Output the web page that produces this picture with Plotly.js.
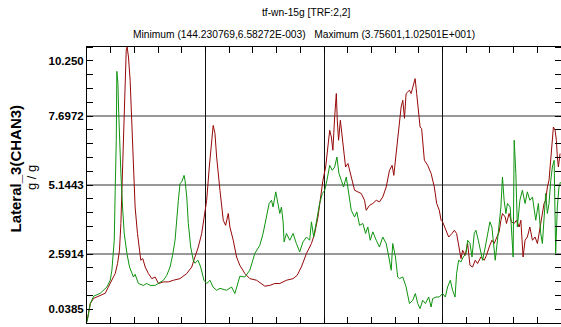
<!DOCTYPE html>
<html><head><meta charset="utf-8">
<script src="https://cdn.plot.ly/plotly-3.0.1.min.js"></script>
<style>html,body{margin:0;padding:0;background:#fff;overflow:hidden}</style>
</head><body><div id="chart" style="width:561px;height:327px"></div>
<script>
// Frequency (Hz) and amplitude (g/g)
const freqRed = [0,0.28,0.56,0.84,1.12,1.54,1.79,2.10,2.38,2.58, 2.74,2.86,2.95,3.03,3.14,3.22,3.31,3.39,3.50,3.64, 3.79,3.92,4.06,4.26,4.43,4.54,4.71,4.91,5.18,5.47, 5.75,6.03,6.45,6.87,7.29,7.85,8.42,8.84,9.11,9.39, 9.68,9.87,10.10,10.32,10.52,10.65,10.80,10.94,11.22,11.50, 11.70,11.92,12.06,12.34,12.62,12.90,13.32,13.74,14.31,14.67, 15.01,15.43,15.85,16.27,16.83,17.39,17.73,18.09,18.52,18.94, 19.21,19.49,19.78,19.91,20.14,20.33,20.48,20.62,20.75,20.90, 21.04,21.12,21.23,21.38,21.60,21.82,22.02,22.30,22.58,22.86, 23.14,23.42,23.56,23.84,24.12,24.41,24.68,24.96,25.25,25.53, 25.75,25.89,26.09,26.31,26.51,26.65,26.79,26.93,27.21,27.35, 27.49,27.69,27.82,27.99,28.11,28.24,28.47,28.75,29.04,29.31, 29.51,29.73,29.88,30.01,30.30,30.52,30.80,31.00,31.19,31.36, 31.56,31.70,31.92,32.12,32.32,32.54,32.76,32.96,33.24,33.52, 33.71,33.94,34.17,34.36,34.56,34.78,34.93,35.06,35.29,35.40, 35.62,35.82,36.05,36.24,36.47,36.61,36.80,36.97,37.16,37.37, 37.59,37.81,38.01,38.15,38.38,38.57,38.71,38.85,38.99,39.14, 39.27,39.36,39.50,39.61,39.69,39.78,39.92];
const lateralRed = [0.10,0.76,0.95,1.00,1.06,1.14,1.36,1.62,1.87,2.24, 2.73,3.72,4.95,6.18,8.03,9.27,10.13,10.25,9.88,9.02, 7.42,5.57,4.33,3.35,2.61,2.36,2.42,2.11,1.87,1.68, 1.74,1.50,1.56,1.56,1.62,1.68,1.87,2.11,2.48,2.85, 3.35,3.84,4.58,5.81,6.80,7.35,7.05,6.18,4.95,3.84, 3.65,4.09,3.59,3.10,2.48,2.17,1.87,1.68,1.62,1.51, 1.40,1.43,1.50,1.50,1.62,1.68,1.80,2.11,2.61,2.98, 3.35,3.96,4.83,5.32,5.81,6.55,7.17,6.92,6.43,7.66, 8.53,7.54,6.80,7.54,6.55,5.81,5.94,5.44,4.95,4.89, 4.83,4.58,4.21,4.39,4.46,4.58,4.52,4.70,5.07,5.69, 5.87,5.50,6.31,7.05,8.03,8.28,7.61,8.53,8.65,8.53, 8.77,9.08,8.53,7.66,7.29,7.23,6.06,5.87,5.57,5.07, 4.46,4.21,3.84,3.78,3.47,3.22,3.35,3.47,3.35,2.85, 2.42,2.73,2.54,2.98,2.17,2.11,2.36,2.24,2.48,2.36, 2.54,2.85,3.10,2.98,3.22,3.41,3.84,4.09,3.96,3.72, 4.09,3.78,3.72,3.84,3.59,3.84,2.48,3.10,3.22,3.59, 3.10,3.22,2.98,3.35,3.96,4.46,4.58,5.07,5.32,6.18, 6.80,7.29,7.17,6.80,6.18,5.81,6.31];

const freqGreen = [0,0.28,0.56,1.12,1.68,1.96,2.10,2.24,2.30,2.38, 2.47,2.52,2.61,2.66,2.74,2.86,3.00,3.14,3.37,3.59, 3.92,4.06,4.34,4.76,5.05,5.33,5.75,6.17,6.45,6.73, 7.01,7.22,7.43,7.71,7.85,8.00,8.19,8.27,8.42,8.55, 8.75,8.97,9.11,9.37,9.59,9.87,10.10,10.38,10.63,10.94, 11.22,11.78,12.20,12.48,12.76,12.90,13.32,13.74,14.16,14.58, 14.86,15.09,15.37,15.57,15.70,15.93,16.13,16.27,16.41,16.55, 16.63,16.83,17.11,17.39,17.67,17.95,18.23,18.52,18.79,18.94, 19.13,19.41,19.63,19.86,20.06,20.25,20.48,20.70,20.90,21.09, 21.26,21.46,21.65,21.88,22.10,22.30,22.58,22.77,23.00,23.28, 23.51,23.70,23.90,24.12,24.41,24.68,24.96,25.25,25.47,25.67, 25.80,26.03,26.22,26.37,26.65,26.93,27.21,27.49,27.71,27.91, 28.11,28.33,28.56,28.83,29.04,29.17,29.46,29.73,30.01,30.24, 30.43,30.66,30.85,31.06,31.19,31.36,31.56,31.75,31.98,32.12, 32.32,32.49,32.68,32.82,33.02,33.24,33.38,33.61,33.80,34.00, 34.17,34.30,34.45,34.64,34.78,34.93,35.06,35.20,35.35,35.48, 35.71,35.85,35.96,36.05,36.19,36.32,36.53,36.74,36.97,37.16, 37.37,37.59,37.73,37.87,38.09,38.29,38.43,38.57,38.71,38.85, 38.99,39.14,39.27,39.42,39.55,39.69,39.83,39.95];
const lateralGreen = [0.08,0.76,1.03,1.14,1.37,1.62,1.99,2.61,3.10,4.95, 6.80,9.35,8.90,8.03,6.80,5.58,4.33,3.36,2.61,2.11, 1.74,1.84,1.50,1.43,1.50,1.43,1.43,1.55,1.62,1.80, 2.11,2.54,3.10,4.58,5.20,5.26,5.50,5.32,4.70,3.72, 2.85,2.36,2.25,2.36,2.11,1.62,1.50,1.62,1.37,1.25, 1.32,1.25,1.37,1.13,1.50,1.77,1.74,1.99,2.61,2.91, 3.35,3.84,4.46,4.58,4.33,4.89,4.46,4.09,4.33,3.78, 3.04,3.35,3.10,3.35,2.98,2.67,3.04,3.22,3.10,3.78, 3.22,3.96,4.46,4.83,4.95,5.32,5.87,5.69,5.81,6.18, 5.57,5.32,5.07,5.44,4.70,4.21,3.96,4.15,3.65,3.72, 3.35,3.59,3.10,3.41,3.10,2.85,3.22,2.98,2.48,1.99, 2.98,2.48,1.74,1.68,1.74,1.37,0.76,0.88,1.13,0.76, 0.57,0.88,0.76,1.00,0.63,0.94,1.00,1.00,1.13,1.00, 1.37,1.62,1.25,1.00,1.87,2.36,2.30,2.48,2.61,3.10, 2.98,2.48,3.35,3.47,3.10,2.61,2.36,2.85,3.35,3.78, 3.59,3.10,2.36,3.10,3.59,4.33,5.44,4.58,4.09,4.46, 4.33,3.10,2.48,6.80,5.57,3.59,4.58,4.95,4.46,4.89, 4.58,4.70,4.33,3.84,4.46,3.35,2.98,4.09,4.83,4.09, 4.46,5.32,5.81,6.06,2.61,4.33,5.07,5.25];

const yTickVals = [0.5491, 2.5914, 5.1443, 7.6972, 9.7394];
const yTickText = ['0.0385', '2.5914', '5.1443', '7.6972', '10.250'];
const yGridVals = [2.5914, 5.1443, 7.6972];
const titleText = 'tf-wn-15g [TRF:2,2]';
const subtitleText = 'Minimum (144.230769,6.58272E-003)\u00a0\u00a0\u00a0Maximum (3.75601,1.02501E+001)';
const yTitle1 = 'Lateral_3(CHAN3)';
const yTitle2 = 'g / g';

const sans = '"Liberation Sans", Arial, sans-serif';

const traces = [
  {x: freqRed, y: lateralRed, type: 'scatter', mode: 'lines', line: {color: '#960808', width: 1}, hoverinfo: 'skip'},
  {x: freqGreen, y: lateralGreen, type: 'scatter', mode: 'lines', line: {color: '#0f940f', width: 1}, hoverinfo: 'skip'}
];

const layout = {
  width: 561, height: 327,
  margin: {l: 87, r: 0, t: 47, b: 4, pad: 0},
  paper_bgcolor: '#fff', plot_bgcolor: '#fff',
  showlegend: false,
  xaxis: {
    range: [0, 40], tickmode: 'linear', tick0: 0, dtick: 10,
    ticks: 'inside', ticklen: 6, tickcolor: '#000', showticklabels: false,
    showgrid: true, gridcolor: '#111', gridwidth: 1, zeroline: false,
    showline: true, linecolor: '#000', linewidth: 1, mirror: 'ticks',
    minor: {tickmode: 'linear', tick0: 0, dtick: 2, ticks: 'inside', ticklen: 6, tickcolor: '#000', showgrid: false}
  },
  yaxis: {
    range: [0.0385, 10.25], tickmode: 'array', tickvals: yTickVals, ticktext: yTickText,
    ticks: '', showgrid: false, zeroline: false,
    showline: true, linecolor: '#000', linewidth: 1, mirror: 'ticks',
    tickfont: {family: sans, size: 11.5, color: '#000', weight: 'bold'},
    minor: {tickmode: 'linear', tick0: 0.0385, dtick: 0.510575, ticks: 'inside', ticklen: 6, tickcolor: '#000', showgrid: false}
  },
  shapes: yGridVals.map(v => ({type: 'line', xref: 'paper', yref: 'y', x0: 0, x1: 1, y0: v, y1: v, layer: 'below', line: {color: '#333', width: 1}})),
  annotations: [
    {text: titleText, xref: 'paper', yref: 'paper', x: 0.462, y: 1.1232, xanchor: 'center', yanchor: 'middle', showarrow: false, font: {family: sans, size: 10.25, color: '#000'}},
    {text: subtitleText, xref: 'paper', yref: 'paper', x: 0.458, y: 1.0435, xanchor: 'center', yanchor: 'middle', showarrow: false, font: {family: sans, size: 10.25, color: '#000'}},
    {text: yTitle1, xref: 'paper', yref: 'paper', x: -0.1498, y: 0.5598, xanchor: 'center', yanchor: 'middle', textangle: -90, showarrow: false, font: {family: sans, size: 15, color: '#000', weight: 'bold'}},
    {text: yTitle2, xref: 'paper', yref: 'paper', x: -0.116, y: 0.5254, xanchor: 'center', yanchor: 'middle', textangle: -90, showarrow: false, font: {family: sans, size: 13, color: '#000'}}
  ]
};

Plotly.newPlot('chart', traces, layout, {staticPlot: true, displayModeBar: false});
</script></body></html>
